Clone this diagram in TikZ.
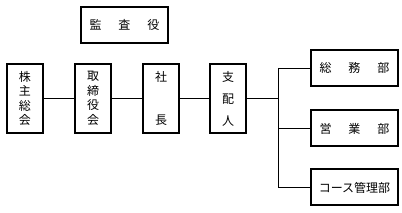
\documentclass[tikz,border=0pt]{standalone}
\usepackage{fontspec}
\newfontfamily\jp{Noto Sans CJK JP}
\usepackage{tikz}

\begin{document}
\begin{tikzpicture}[x=1pt, y=-1pt,
	every node/.style={font={\jp\fontsize{12}{14.5}\selectfont}, inner sep=0pt},
	vbox/.style={draw, line width=2pt, minimum width=36pt, minimum height=69pt, align=center},
	hbox/.style={draw, line width=2pt, minimum width=87pt, minimum height=36pt},
	link/.style={line width=0.9pt}]
	\useasboundingbox (0,0) rectangle (402,213);
	\node[hbox] (kansa) at (124.5,25) {監\hspace{17pt}査\hspace{17pt}役};
	\node[vbox] (kabunushi) at (25,98.5) {株\\主\\総\\会};
	\node[vbox] (torishimari) at (93,98.5) {取\\締\\役\\会};
	\node[vbox] (shacho) at (161,98.5) {社\\\\\\長};
	\node[vbox] (shihainin) at (228,98.5) {支\\[7.5pt]配\\[7.5pt]人};
	\node[hbox] (somu) at (354.5,68) {総\hspace{17pt}務\hspace{17pt}部};
	\node[hbox] (eigyo) at (354.5,128.5) {営\hspace{17pt}業\hspace{17pt}部};
	\node[hbox] (course) at (354.5,187.5) {コース管理部};
	\coordinate (branch) at (278,98.5);
	\draw[link] (kabunushi) -- (torishimari);
	\draw[link] (torishimari) -- (shacho);
	\draw[link] (shacho) -- (shihainin);
	\draw[link] (shihainin) -- (branch);
	\draw[link] (branch |- somu) -- (branch |- course);
	\foreach \d in {somu,eigyo,course} {\draw[link] (branch |- \d) -- (\d);}
\end{tikzpicture}
\end{document}
